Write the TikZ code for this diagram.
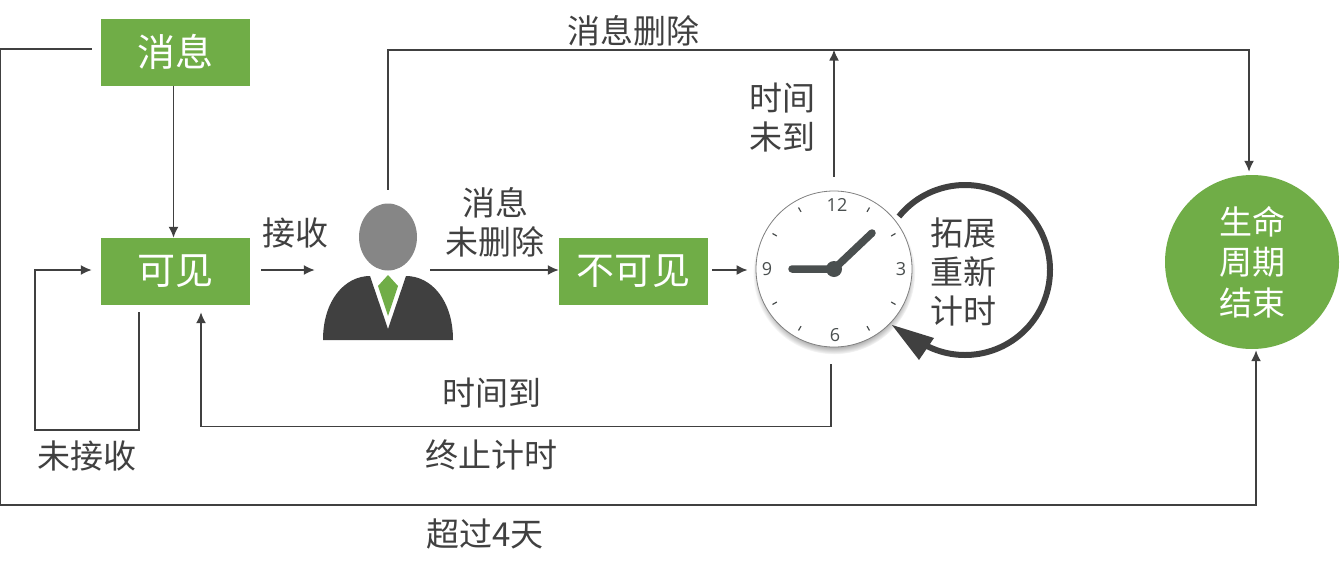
\documentclass[tikz,border=0pt]{standalone}
\usepackage{fontspec}
\setmainfont{Noto Sans CJK SC}
\newfontfamily\numfont{Open Sans}
\usetikzlibrary{arrows.meta,shadows}
\definecolor{leaf}{HTML}{70AD47}
\definecolor{ink}{HTML}{404040}
\definecolor{hand}{HTML}{4A4F4F}
\tikzset{
	statebox/.style={fill=leaf,text=white,minimum width=149pt,minimum height=67pt,inner sep=0pt,font=\fontsize{38}{38}\selectfont},
	lbl/.style={text=ink,inner sep=0pt,align=center,font=\fontsize{33}{39}\selectfont},
	flow/.style={draw=ink,line width=1.7pt,-{Latex[length=11pt,width=10pt]}},
	clocknum/.style={text=hand,inner sep=0pt,font=\numfont\fontsize{18}{18}\selectfont},
}
\begin{document}
\begin{tikzpicture}[x=1pt,y=1pt]
	\useasboundingbox (0,0) rectangle (1341,-573);
	% boxes
	\node[statebox] (msg) at (175.5,-52) {消息};
	\node[statebox] (vis) at (175.5,-271.5) {可见};
	\node[statebox] (hid) at (633.5,-271.5) {不可见};
	\node[circle,fill=leaf,text=white,minimum size=174pt,inner sep=0pt,align=center,font=\fontsize{33}{40.5}\selectfont] (over) at (1252,-262) {生命\\周期\\结束};
	% person
	\node[minimum width=100pt,minimum height=160pt,inner sep=0pt] (user) at (388,-270) {};
	\fill[ink] (323,-340) .. controls (323,-300) and (345,-276) .. (370,-276) -- (388,-329) -- (406,-276) .. controls (431,-276) and (453,-300) .. (453,-340) -- cycle;
	\fill[gray!95] (388,-237) ellipse [x radius=29, y radius=33.5];
	\fill[leaf] (388,-275) -- (398,-286) -- (388,-316) -- (378,-286) -- cycle;
	% clock
	\node[circle,draw=gray,fill=white,line width=0.8pt,minimum size=156pt,inner sep=0pt,circular drop shadow={shadow scale=1.04,shadow xshift=0pt,shadow yshift=-4pt}] (clock) at (834,-269) {};
	\foreach \ang in {30,60,120,150,210,240,300,330} {
		\draw[hand,line width=1.2pt] (clock.center) ++(\ang:66) -- ++(\ang:5);
	}
	\node[clocknum] at (837,-205) {12};
	\node[clocknum] at (901,-269) {3};
	\node[clocknum] at (835,-335) {6};
	\node[clocknum] at (767,-269) {9};
	\draw[hand,line width=7.5pt,line cap=round] (792,-269) -- (834,-269) -- (872,-233);
	\fill[hand] (clock.center) circle (8);
	% turning arrow
	\draw[ink,line width=6pt] (965,-270) ++(141:85) arc[start angle=141,end angle=-117,radius=85];
	\fill[ink] (892,-325) -- (934,-338) -- (919,-360) -- cycle;
	% labels
	\node[lbl] (ldel) at (633,-31) {消息删除};
	\node[lbl] (lwait) at (782,-118) {时间\\未到};
	\node[lbl] (lrecv) at (295,-233) {接收};
	\node[lbl] (lkeep) at (495,-222) {消息\\未删除};
	\node[lbl] (lup) at (492,-393) {时间到};
	\node[lbl] (lstop) at (491,-455) {终止计时};
	\node[lbl] (lnot) at (87,-456) {未接收};
	\node[lbl] (lfour) at (485,-534) {超过4天};
	\node[lbl] (lext) at (963,-272) {拓展\\重新\\计时};
	% connectors
	\draw[flow] ([xshift=-2pt]msg.south) -- ([xshift=-2pt]vis.north);
	\draw[flow,shorten <=11pt,shorten >=23pt] ([yshift=1.5pt]vis.east) -- (user.west);
	\draw[flow,shorten <=-8pt] (user.east) -- ([yshift=1.5pt]hid.west);
	\draw[flow,shorten <=4pt,shorten >=8pt] ([yshift=1.5pt]hid.east) -- ([yshift=-1pt]clock.west);
	\draw[flow] (user.north) |- ([xshift=-3pt,yshift=125pt]over.north) -- ([xshift=-3pt,yshift=3pt]over.north);
	\draw[flow,shorten <=14pt] (clock.north) -- ([yshift=141pt]clock.north);
	\draw[flow] ([xshift=-3pt,yshift=-17pt]clock.south) -- ++(0,-62) -| ([xshift=25.5pt,yshift=-7pt]vis.south);
	\draw[flow] ([xshift=-36.5pt,yshift=-7pt]vis.south) -- ++(0,-118) -| ([xshift=-66pt,yshift=1.5pt]vis.west) -- ([xshift=-9pt,yshift=1.5pt]vis.west);
	\draw[flow] ([xshift=-9pt,yshift=3pt]msg.west) -| (0,-505) -| ([xshift=4pt,yshift=-1pt]over.south);
\end{tikzpicture}
\end{document}
